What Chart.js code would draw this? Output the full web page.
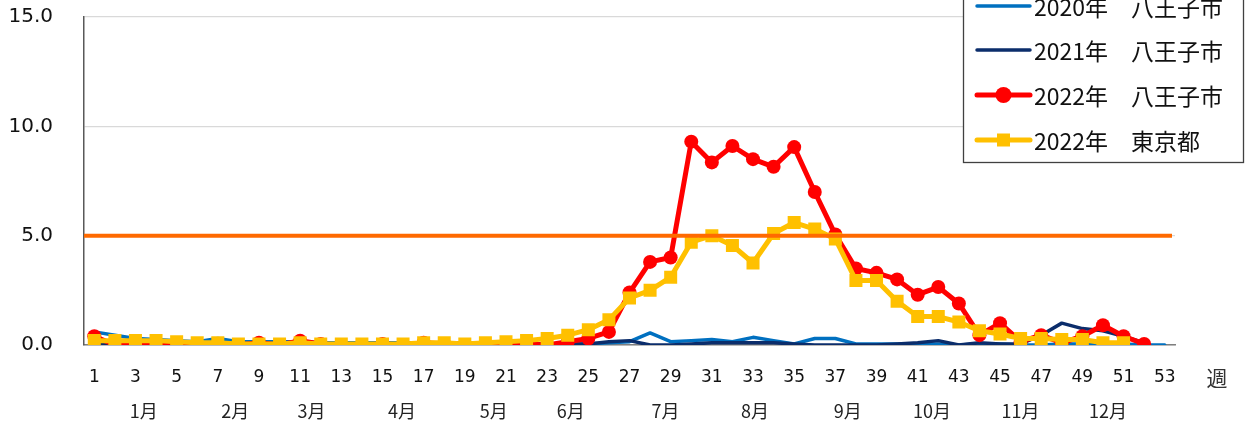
<!DOCTYPE html>
<html lang="ja">
<head>
<meta charset="utf-8">
<script src="https://cdn.jsdelivr.net/npm/chart.js@4/dist/chart.umd.min.js"></script>
<style>
  html, body { margin: 0; padding: 0; background: #fff; }
  #wrap { width: 1255px; height: 429px; }
</style>
</head>
<body>
<div id="wrap"><canvas id="chart" width="1255" height="429"></canvas></div>
<script>
// week numbers (x categories)
const weeks = [1, 2, 3, 4, 5, 6, 7, 8, 9, 10, 11, 12, 13, 14, 15, 16, 17, 18, 19, 20,
  21, 22, 23, 24, 25, 26, 27, 28, 29, 30, 31, 32, 33, 34, 35, 36, 37, 38, 39, 40,
  41, 42, 43, 44, 45, 46, 47, 48, 49, 50, 51, 52, 53];

// per-week values
const hachioji2020 = [0.6, 0.45, 0.3, 0.25, 0.2, 0.15, 0.3, 0.15, 0.15, 0.15, 0.15, 0.1, 0.1,
  0.1, 0.1, 0.1, 0.1, 0.1, 0.1, 0.05, 0.05, 0.05, 0.05, 0.05, 0.05, 0.1, 0.15, 0.55, 0.15,
  0.2, 0.25, 0.15, 0.35, 0.2, 0.05, 0.3, 0.3, 0.05, 0.05, 0.05, 0.05, 0.05, 0.0, 0.05, 0.05,
  0.0, 0.0, 0.05, 0.05, 0.05, 0.05, 0.0, 0.0];
const hachioji2021 = [0.1, 0.05, 0.05, 0.05, 0.05, 0.05, 0.05, 0.0, 0.05, 0.05, 0.05, 0.05,
  0.05, 0.05, 0.05, 0.05, 0.05, 0.1, 0.05, 0.05, 0.05, 0.05, 0.05, 0.05, 0.05, 0.15, 0.2,
  0.0, 0.0, 0.05, 0.1, 0.1, 0.1, 0.1, 0.05, 0.0, 0.0, 0.0, 0.0, 0.05, 0.1, 0.2, 0.0, 0.1,
  0.05, 0.05, 0.45, 1.0, 0.75, 0.65, 0.4, 0.1];
const hachioji2022 = [0.4, 0.0, 0.0, 0.0, 0.05, 0.0, 0.05, 0.0, 0.1, 0.0, 0.2, 0.05, 0.0,
  0.0, 0.05, 0.0, 0.1, 0.05, 0.0, 0.0, 0.05, 0.05, 0.0, 0.15, 0.3, 0.6, 2.4, 3.8, 4.0, 9.3,
  8.35, 9.1, 8.5, 8.15, 9.05, 7.0, 5.05, 3.5, 3.3, 3.0, 2.3, 2.65, 1.9, 0.45, 1.0, 0.15,
  0.45, 0.1, 0.4, 0.9, 0.4, 0.05];
const tokyo2022 = [0.2, 0.2, 0.2, 0.2, 0.15, 0.1, 0.1, 0.05, 0.05, 0.05, 0.1, 0.05, 0.05,
  0.05, 0.05, 0.05, 0.1, 0.1, 0.05, 0.1, 0.15, 0.2, 0.3, 0.45, 0.7, 1.15, 2.15, 2.5, 3.1,
  4.7, 5.0, 4.55, 3.75, 5.1, 5.6, 5.3, 4.85, 2.95, 2.95, 2.0, 1.3, 1.3, 1.05, 0.65, 0.5,
  0.3, 0.3, 0.25, 0.25, 0.1, 0.1];

const seriesNames = ['2020年　八王子市', '2021年　八王子市', '2022年　八王子市', '2022年　東京都'];

// warning level line
const alertLevel = 5.0;

// month labels under the axis, placed at (fractional) week positions
const monthLabels = ['1月', '2月', '3月', '4月', '5月', '6月', '7月', '8月', '9月', '10月', '11月', '12月'];
const monthWeeks = [3.4, 7.85, 11.55, 15.95, 20.4, 24.15, 28.75, 33.1, 37.6, 41.7, 46.0, 50.25];

const unitLabel = '週';

const CJK = '"Noto Sans CJK JP", "DejaVu Sans", sans-serif';

const extras = {
  id: 'extras',
  afterDatasetsDraw(chart) {
    const { ctx, chartArea, scales } = chart;
    const y = scales.y.getPixelForValue(alertLevel);
    ctx.save();
    ctx.strokeStyle = '#FF6A00';
    ctx.lineWidth = 4;
    ctx.beginPath();
    ctx.moveTo(chartArea.left, y);
    ctx.lineTo(chartArea.right - 3, y);
    ctx.stroke();
    ctx.restore();
  },
  afterDraw(chart) {
    const { ctx, chartArea, scales } = chart;
    ctx.save();
    // month row
    ctx.fillStyle = '#222';
    ctx.font = '18px ' + CJK;
    ctx.textAlign = 'center';
    ctx.textBaseline = 'middle';
    monthLabels.forEach((m, i) => {
      ctx.fillText(m, scales.x.getPixelForValue(monthWeeks[i] - 1), 411);
    });
    // unit
    ctx.font = '21px ' + CJK;
    ctx.fillStyle = '#333';
    ctx.fillText(unitLabel, chartArea.right + 42, 378);

    // legend box
    const bx = 963.5, bw = 280, top = -10, bottom = 162.5;
    ctx.fillStyle = '#fff';
    ctx.fillRect(bx, top, bw, bottom - top);
    ctx.strokeStyle = '#404040';
    ctx.lineWidth = 1.3;
    ctx.strokeRect(bx, top, bw, bottom - top);
    const rows = [6, 50, 95, 140];
    chart.data.datasets.forEach((ds, i) => {
      const ry = rows[i];
      ctx.strokeStyle = ds.borderColor;
      ctx.lineWidth = ds.borderWidth;
      ctx.lineCap = 'round';
      ctx.beginPath();
      ctx.moveTo(977, ry);
      ctx.lineTo(1030, ry);
      ctx.stroke();
      ctx.fillStyle = ds.borderColor;
      if (ds.pointStyle === 'circle' && ds.pointRadius > 0) {
        ctx.beginPath();
        ctx.arc(1003.5, ry, 8, 0, Math.PI * 2);
        ctx.fill();
      } else if (ds.pointStyle === 'rect' && ds.pointRadius > 0) {
        ctx.fillRect(997, ry - 6.5, 13, 13);
      }
      ctx.fillStyle = '#111';
      ctx.font = '23px ' + CJK;
      ctx.textAlign = 'left';
      ctx.textBaseline = 'middle';
      ctx.fillText(seriesNames[i], 1034, ry + 1);
    });
    ctx.restore();
  }
};

new Chart(document.getElementById('chart'), {
  type: 'line',
  data: {
    labels: weeks,
    datasets: [
      {
        label: seriesNames[0],
        data: hachioji2020,
        borderColor: '#0070C0',
        borderWidth: 3.5,
        pointRadius: 0,
        order: 4
      },
      {
        label: seriesNames[1],
        data: hachioji2021,
        borderColor: '#0B2D6B',
        borderWidth: 3.5,
        pointRadius: 0,
        order: 3
      },
      {
        label: seriesNames[2],
        data: hachioji2022,
        borderColor: '#FF0000',
        backgroundColor: '#FF0000',
        borderWidth: 5,
        pointStyle: 'circle',
        pointRadius: 7,
        pointBorderWidth: 0,
        order: 2
      },
      {
        label: seriesNames[3],
        data: tokyo2022,
        borderColor: '#FFC000',
        backgroundColor: '#FFC000',
        borderWidth: 5,
        pointStyle: 'rect',
        pointRadius: 9.2,
        pointBorderWidth: 0,
        order: 1
      }
    ]
  },
  options: {
    responsive: false,
    animation: false,
    devicePixelRatio: 1,
    layout: { padding: { left: 0, right: 80, top: 17, bottom: 0 } },
    elements: {
      line: { tension: 0, borderJoinStyle: 'round', borderCapStyle: 'round', fill: false }
    },
    plugins: {
      legend: { display: false },
      tooltip: { enabled: false }
    },
    scales: {
      x: {
        type: 'category',
        offset: true,
        afterFit(scale) { scale.height = 84; scale.paddingLeft = 0; scale.paddingRight = 0; },
        grid: { display: false, drawTicks: false },
        border: { display: true, color: '#7F7F7F', width: 1.5 },
        ticks: {
          autoSkip: false,
          maxRotation: 0,
          padding: 22,
          color: '#111',
          font: { family: '"DejaVu Sans", sans-serif', size: 17 },
          callback(value, index) {
            return weeks[index] % 2 === 1 ? String(weeks[index]) : '';
          }
        }
      },
      y: {
        min: 0,
        max: 15,
        afterFit(scale) { scale.width = 84; scale.paddingTop = 0; scale.paddingBottom = 0; },
        grid: { color: '#D9D9D9', lineWidth: 1.3, drawTicks: false },
        border: { display: true, color: '#595959', width: 1.5 },
        ticks: {
          stepSize: 5,
          padding: 31,
          color: '#111',
          font: { family: '"DejaVu Sans", sans-serif', size: 20 },
          callback(v) { return Number(v).toFixed(1); }
        }
      }
    }
  },
  plugins: [extras]
});
</script>
</body>
</html>
